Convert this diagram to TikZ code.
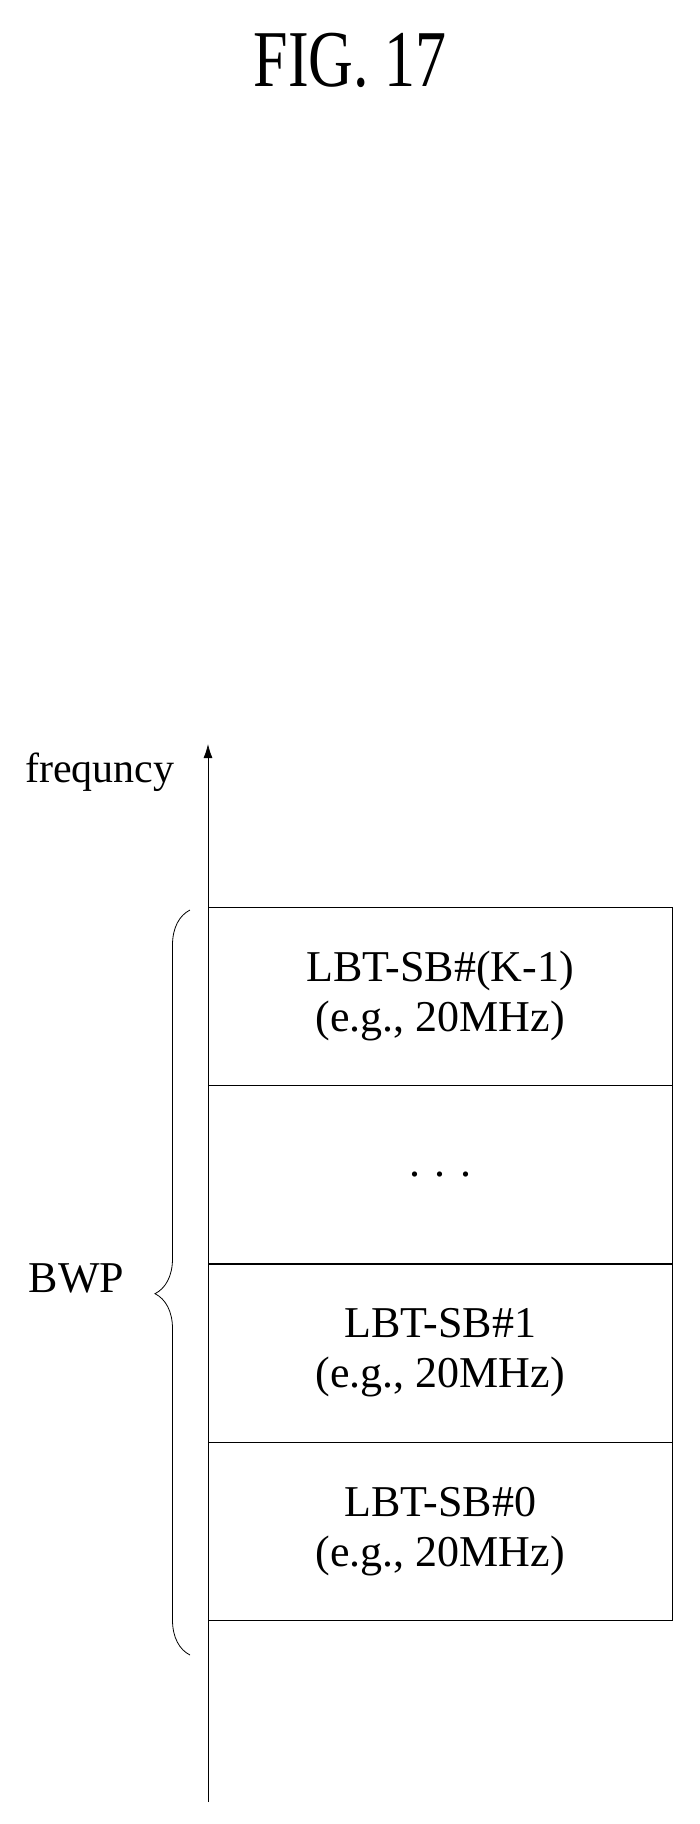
\documentclass[tikz,border=0pt]{standalone}
\usepackage{fontspec}
\setmainfont{Liberation Serif}
\usetikzlibrary{arrows.meta,decorations.pathreplacing,positioning}

\begin{document}
\begin{tikzpicture}[x=1pt,y=1pt]
\tikzstyle{sb}=[draw, minimum width=464pt, minimum height=178pt, anchor=north west, inner sep=0pt, align=center, font=\fontsize{44}{50}\selectfont]
\useasboundingbox (0,0) rectangle (700,-1824);
\node[font=\fontsize{62}{70}\selectfont, xscale=1.0, yscale=1.3] (title) at (350,-60) {FIG. 17};
\draw[thick, -{Latex[length=14pt,width=9pt]}] (208,-1802) -- (208,-744) coordinate (top);
\node[left=30pt of top, yshift=-28pt, font=\fontsize{42}{48}\selectfont] (freq) {frequncy};
\node[sb] (sbk) at (208,-907) {LBT-SB\#(K-1)\\(e.g., 20MHz)};
\node[sb] (dots) at (sbk.south west) {. . .};
\node[sb] (sbone) at (dots.south west) {LBT-SB\#1\\(e.g., 20MHz)};
\node[sb] (sbzero) at (sbone.south west) {LBT-SB\#0\\(e.g., 20MHz)};
\draw[thick, decorate, decoration={brace, amplitude=35pt, aspect=0.485}] (190,-1655) -- (190,-910) node[pos=0.505, left=62pt, font=\fontsize{44}{50}\selectfont] (bwp) {BWP};
\end{tikzpicture}
\end{document}
